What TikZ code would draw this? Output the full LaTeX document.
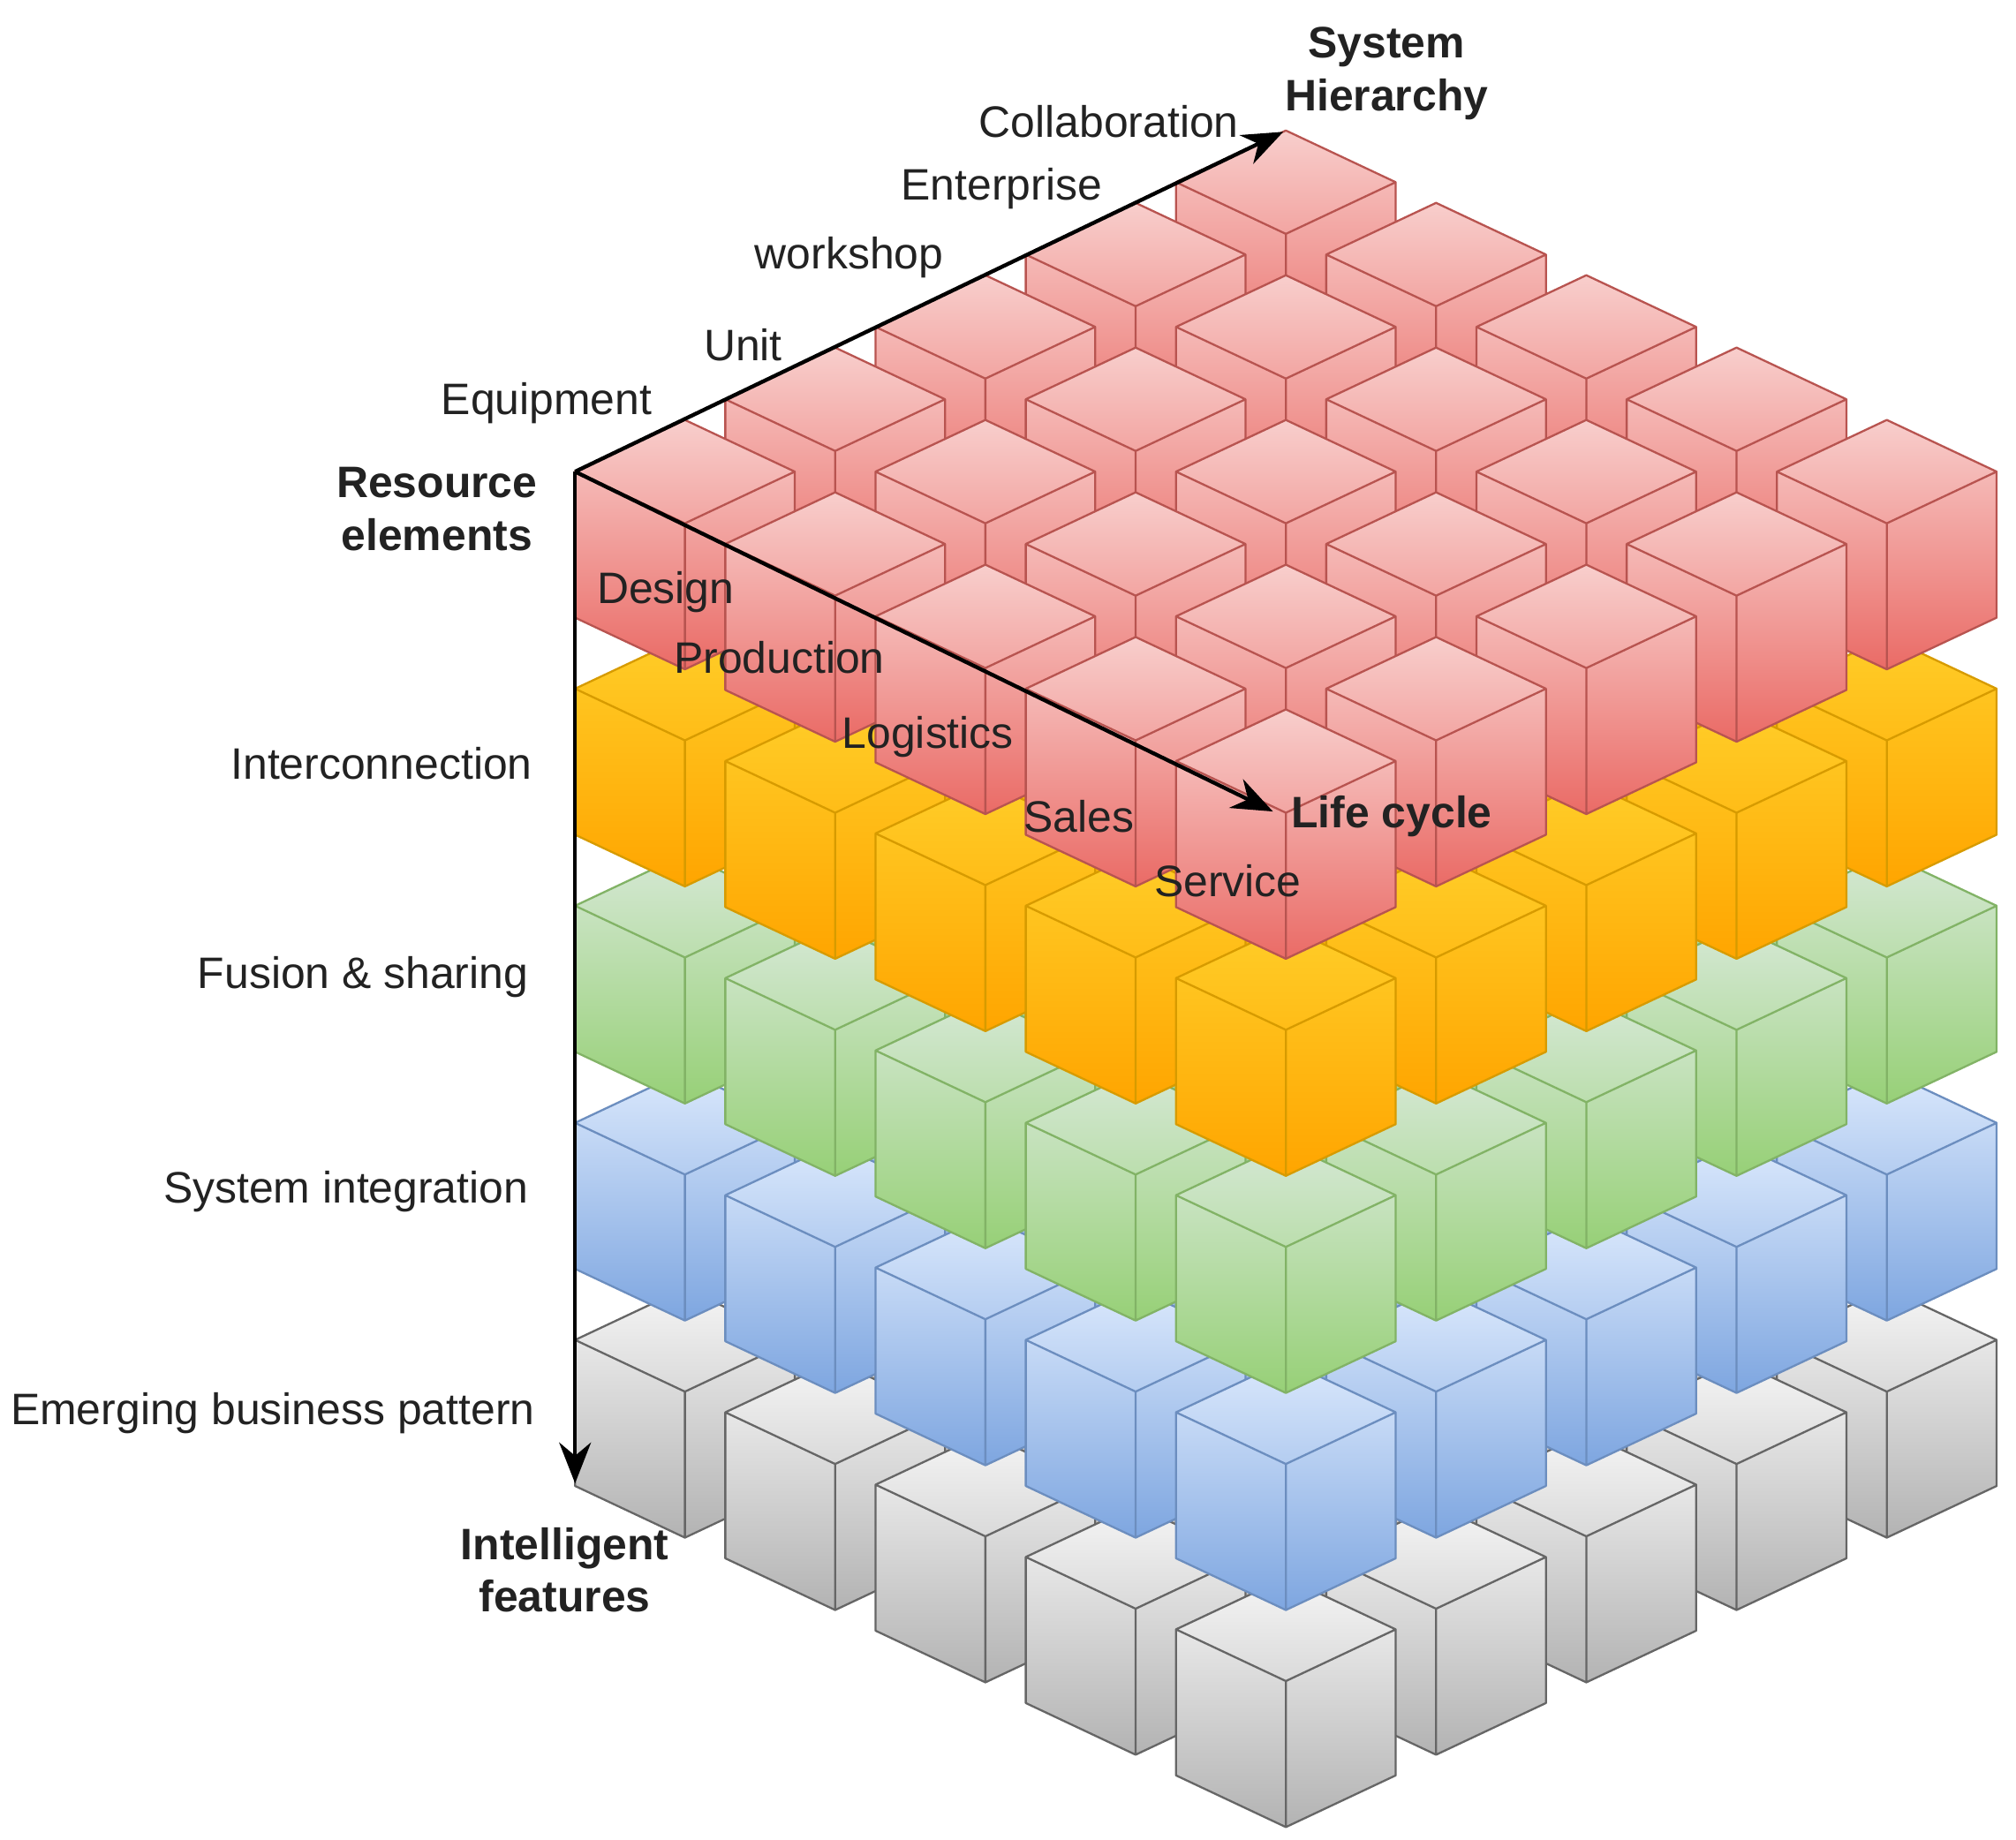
\documentclass[tikz,border=0pt]{standalone}
\usepackage{fontspec}
\setmainfont{Liberation Sans}
\usetikzlibrary{arrows.meta}
\definecolor{rT}{HTML}{F8CECC}\definecolor{rB}{HTML}{EA6B66}\definecolor{rS}{HTML}{B85450}
\definecolor{oT}{HTML}{FFCD28}\definecolor{oB}{HTML}{FFA500}\definecolor{oS}{HTML}{D79B00}
\definecolor{gT}{HTML}{D5E8D4}\definecolor{gB}{HTML}{97D077}\definecolor{gS}{HTML}{82B366}
\definecolor{bT}{HTML}{DAE8FC}\definecolor{bB}{HTML}{7EA6E0}\definecolor{bS}{HTML}{6C8EBF}
\definecolor{yT}{HTML}{F5F5F5}\definecolor{yB}{HTML}{B3B3B3}\definecolor{yS}{HTML}{666666}
\definecolor{txt}{HTML}{222222}
\newcommand\isocube[5]{%
\begin{scope}[shift={(#1,#2)}]
\shade[top color=#3,bottom color=#4] (0,0)--(85,-40)--(170,0)--(170,113)--(85,153)--(0,113)--cycle;
\draw[#5,cubeline] (0,0)--(85,-40)--(170,0)--(170,113)--(85,153)--(0,113)--cycle (0,0)--(85,40)--(170,0) (85,40)--(85,153);
\end{scope}}
\begin{document}
\begin{tikzpicture}[x=0.1mm,y=-0.1mm,
  cubeline/.style={line width=0.45pt,line join=round},
  axis/.style={line width=0.85pt,-{Stealth[length=9pt,width=7pt]}},
  lbl/.style={font=\fontsize{9.7}{11.6}\selectfont,text=txt,inner sep=1pt},
  blbl/.style={lbl,font=\fontsize{9.7}{11.6}\selectfont\bfseries,align=center}]
\useasboundingbox (0,0) rectangle (1560,1424);
\foreach \k/\ct/\cb/\cs in {4/yT/yB/yS,3/bT/bB/bS,2/gT/gB/gS,1/oT/oB/oS,0/rT/rB/rS}{
  \foreach \d in {-4,...,4}{
    \foreach \i in {0,...,4}{
      \pgfmathtruncatemacro\j{\i+\d}
      \ifnum\j>-1 \ifnum\j<5
        \pgfmathsetmacro\px{445+116.25*(\i+\j)}
        \pgfmathsetmacro\py{365-56*\i+56*\j+168*\k}
        \isocube{\px}{\py}{\ct}{\cb}{\cs}
      \fi\fi
    }}}
\coordinate (O) at (445,365);
\coordinate (SH) at (993,102);
\coordinate (LC) at (985,628);
\coordinate (IF) at (445,1148);
\draw[axis] (O) -- (SH);
\draw[axis] (O) -- (LC);
\draw[axis] (O) -- (IF);
\node[blbl] (sh) at (1073,57) {System\\Hierarchy};
\node[lbl] (col) at (858,94) {Collaboration};
\node[lbl] (ent) at (775,146) {Enterprise};
\node[lbl] (ws) at (657,199) {workshop};
\node[lbl] (unit) at (575,267) {Unit};
\node[lbl] (eq) at (423,312) {Equipment};
\node[blbl,anchor=east] (re) at (420,394) {Resource\\elements};
\node[lbl] (des) at (515,458) {Design};
\node[lbl] (pro) at (603,509) {Production};
\node[lbl] (log) at (718,570) {Logistics};
\node[lbl] (sal) at (835,632) {Sales};
\node[lbl] (ser) at (950,682) {Service};
\node[lbl,anchor=west,font=\fontsize{9.7}{11.6}\selectfont\bfseries] (lc) at (995,632) {Life cycle};
\node[lbl,anchor=east] (ic) at (416,591) {Interconnection};
\node[lbl,anchor=east] (fs) at (413,756) {Fusion \& sharing};
\node[lbl,anchor=east] (si) at (413,922) {System integration};
\node[lbl,anchor=east] (eb) at (418,1094) {Emerging business pattern};
\node[blbl] (if) at (437,1215) {Intelligent\\features};
\end{tikzpicture}
\end{document}
